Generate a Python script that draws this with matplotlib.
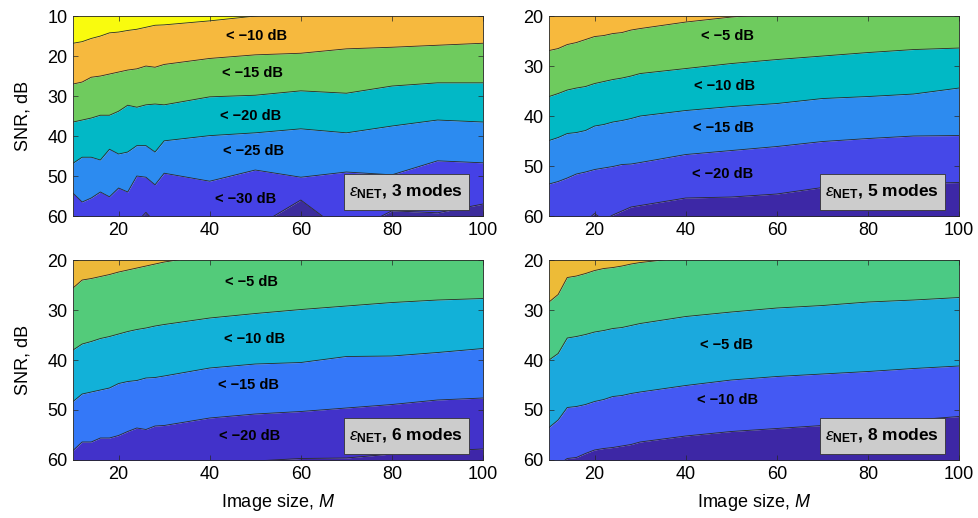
import numpy as np
import matplotlib
matplotlib.use("Agg")
import matplotlib.pyplot as plt
from matplotlib.patches import Rectangle

plt.rcParams['font.family'] = ['Liberation Sans', 'DejaVu Sans']
plt.rcParams['mathtext.fontset'] = 'custom'
plt.rcParams['mathtext.rm'] = 'Liberation Sans'
plt.rcParams['mathtext.it'] = 'Liberation Sans:italic'
plt.rcParams['mathtext.bf'] = 'Liberation Sans:bold'

# image size grid
M = [10, 12, 14, 16, 18, 20, 22, 24, 26, 28, 30, 40, 50, 60, 70, 80, 90, 100]

# SNR (dB) of each contour boundary, 3 modes
m3_b1 = [16.8, 16.4, 15.6, 15.0, 14.2, 14.0, 13.6, 13.3, 12.8, 12.3, 12.2, 11.2, 10.0, 9.0, 8.5, 8.0, 7.5, 7.0]
m3_b2 = [27.0, 26.5, 25.3, 25.0, 24.5, 24.0, 23.5, 23.2, 22.5, 22.8, 22.1, 20.6, 19.7, 19.3, 18.2, 17.8, 17.3, 16.8]
m3_b3 = [36.5, 36.0, 35.5, 34.8, 34.8, 33.8, 32.3, 32.8, 32.2, 32.0, 32.2, 30.2, 29.8, 28.7, 29.3, 27.5, 26.7, 26.7]
m3_b4 = [46.8, 45.3, 45.3, 46.0, 43.3, 44.5, 44.0, 42.4, 42.4, 44.0, 41.2, 39.9, 39.2, 38.2, 39.2, 37.5, 36.0, 36.5]
m3_b5 = [54.3, 56.5, 55.5, 54.0, 55.2, 53.0, 54.0, 50.0, 50.3, 52.2, 49.3, 51.3, 48.5, 50.3, 49.0, 49.7, 46.2, 46.7]
m3_b6 = [62.0, 62.0, 62.0, 62.0, 62.0, 62.0, 62.0, 61.5, 59.1, 61.5, 62.0, 62.0, 62.8, 56.0, 64.5, 58.7, 59.2, 57.0]

# 5 modes
m5_b1 = [26.9, 26.5, 25.7, 25.3, 24.7, 24.1, 23.9, 23.5, 23.3, 22.8, 22.5, 21.2, 20.2, 19.5, 19.0, 18.5, 18.0, 17.5]
m5_b2 = [36.1, 35.5, 34.8, 34.4, 34.1, 33.5, 33.1, 32.7, 32.4, 32.0, 31.5, 30.5, 29.5, 28.7, 28.0, 27.3, 26.7, 26.4]
m5_b3 = [44.9, 44.3, 43.5, 43.3, 42.9, 42.0, 41.7, 41.2, 40.9, 40.5, 40.0, 38.9, 38.1, 37.5, 36.5, 36.1, 35.6, 34.4]
m5_b4 = [53.6, 53.1, 52.4, 51.6, 51.2, 50.7, 50.4, 50.1, 49.7, 49.6, 49.3, 47.7, 46.9, 46.1, 45.1, 44.5, 44.0, 43.9]
m5_b5 = [62.0, 62.0, 62.0, 62.0, 61.0, 59.5, 60.8, 59.8, 59.0, 58.2, 57.9, 56.4, 56.2, 55.6, 54.3, 53.8, 53.5, 53.3]

# 6 modes
m6_b1 = [25.6, 24.0, 23.7, 23.3, 22.9, 22.4, 22.0, 21.6, 21.2, 20.8, 20.4, 19.0, 18.5, 18.0, 17.5, 17.0, 16.5, 16.0]
m6_b2 = [38.0, 36.8, 36.3, 35.7, 35.3, 34.8, 34.3, 33.9, 33.6, 33.2, 32.9, 31.6, 30.7, 29.9, 29.2, 28.5, 28.0, 27.7]
m6_b3 = [48.3, 46.8, 46.4, 46.0, 45.6, 44.7, 44.3, 44.1, 43.6, 43.5, 43.2, 41.6, 40.8, 40.5, 39.3, 39.2, 38.5, 37.7]
m6_b4 = [58.1, 56.4, 56.4, 55.6, 55.6, 55.1, 54.3, 53.6, 53.9, 53.2, 53.1, 51.6, 50.8, 50.3, 49.6, 48.9, 48.0, 47.6]
m6_b5 = [62.0, 62.0, 62.0, 62.0, 62.0, 62.0, 62.0, 62.0, 62.0, 62.0, 62.0, 61.0, 60.2, 59.7, 59.6, 58.8, 58.2, 57.8]

# 8 modes
m8_b1 = [28.4, 26.9, 23.5, 23.2, 22.7, 22.1, 21.7, 21.5, 21.2, 20.8, 20.5, 19.5, 19.0, 18.5, 18.0, 17.5, 17.0, 16.5]
m8_b2 = [40.0, 38.7, 35.6, 35.3, 34.9, 34.4, 34.1, 33.7, 33.5, 33.1, 32.7, 31.3, 30.4, 29.6, 29.1, 28.4, 28.0, 27.5]
m8_b3 = [53.5, 52.0, 49.5, 49.3, 48.9, 48.3, 47.9, 47.3, 47.1, 46.7, 46.4, 45.1, 44.0, 43.3, 42.8, 42.3, 41.7, 41.2]
m8_b4 = [62.0, 61.0, 59.7, 59.5, 58.7, 58.0, 57.7, 57.5, 57.2, 56.9, 56.4, 55.2, 54.3, 53.7, 53.1, 52.7, 52.0, 51.3]

colors_3 = ['#F9FB0E', '#F6B93E', '#6FCB5E', '#02B8C6', '#2C8BF0', '#4541E6', '#3C2C9C']
colors_5 = ['#F7B93D', '#6ECB5E', '#01B9C5', '#2D8BEF', '#4548E8', '#3D28A6']
colors_6 = ['#EDB939', '#53CB7A', '#12B1D8', '#3478F8', '#4232CA', '#3E26A8']
colors_8 = ['#EDBB37', '#4BCA84', '#1BA9DD', '#4459F3', '#3D27A5']

labels_3 = ['< \u221210 dB', '< \u221215 dB', '< \u221220 dB', '< \u221225 dB', '< \u221230 dB']
labels_5 = ['< \u22125 dB', '< \u221210 dB', '< \u221215 dB', '< \u221220 dB']
labels_6 = ['< \u22125 dB', '< \u221210 dB', '< \u221215 dB', '< \u221220 dB']
labels_8 = ['< \u22125 dB', '< \u221210 dB']
label_M_3 = [50.2, 49.3, 49.0, 49.6, 47.8]
label_snr_3 = [15.0, 24.3, 35.0, 43.7, 55.8]
label_M_5 = [49.1, 48.6, 48.3, 48.1]
label_snr_5 = [24.0, 34.0, 42.3, 51.5]
label_M_6 = [49.2, 49.8, 48.4, 48.8]
label_snr_6 = [24.3, 35.7, 44.9, 55.3]
label_M_8 = [48.9, 49.2]
label_snr_8 = [36.9, 48.1]

panels = [
    ([m3_b1, m3_b2, m3_b3, m3_b4, m3_b5, m3_b6], colors_3, labels_3, label_M_3, label_snr_3, 3, 10),
    ([m5_b1, m5_b2, m5_b3, m5_b4, m5_b5], colors_5, labels_5, label_M_5, label_snr_5, 5, 20),
    ([m6_b1, m6_b2, m6_b3, m6_b4, m6_b5], colors_6, labels_6, label_M_6, label_snr_6, 6, 20),
    ([m8_b1, m8_b2, m8_b3, m8_b4], colors_8, labels_8, label_M_8, label_snr_8, 8, 20),
]

fig = plt.figure(figsize=(9.79, 5.18), dpi=100)
lefts = [0.0746, 0.5608, 0.0746, 0.5608]
bottoms = [0.583, 0.583, 0.112, 0.112]

for i, (bounds, cols, labs, lx, ly, modes, ymin) in enumerate(panels):
    ax = fig.add_axes([lefts[i], bottoms[i], 0.4188, 0.386])
    x = np.array(M)
    edges = [np.full(len(M), 0.0)] + [np.array(b) for b in bounds] + [np.full(len(M), 70.0)]
    for k in range(len(edges) - 1):
        ax.fill_between(x, edges[k], edges[k + 1], color=cols[k], lw=0)
    for b in bounds:
        ax.plot(x, b, color='#2a2a2a', lw=0.6)
    for t, xx, yy in zip(labs, lx, ly):
        ax.text(xx, yy, t, ha='center', va='center', fontsize=10.5, fontweight='bold')
    ax.add_patch(Rectangle((0.661, 0.03), 0.305, 0.18, transform=ax.transAxes,
                           facecolor='#CCCCCC', edgecolor='#333333', lw=0.6, zorder=5))
    ax.text(0.813, 0.12, r'$\mathit{\varepsilon}_{\mathbf{NET}}$, %d modes' % modes, transform=ax.transAxes,
            ha='center', va='center', fontsize=12.5, fontweight='bold', zorder=6)
    ax.set_xlim(10, 100)
    ax.set_ylim(60, ymin)
    ax.set_xticks([20, 40, 60, 80, 100])
    ax.set_yticks(np.arange(ymin, 61, 10))
    ax.tick_params(direction='in', top=True, right=True, labelsize=13, length=3.5,
                   width=0.5, color='#262626', pad=4)
    for s in ax.spines.values():
        s.set_linewidth(0.6)
        s.set_color('#262626')
    if i % 2 == 0:
        ax.set_ylabel('SNR, dB', fontsize=13, labelpad=11)
    if i >= 2:
        ax.set_xlabel('Image size, $\\mathit{M}$', fontsize=13, labelpad=7)

fig.savefig('out.png', dpi=100)
